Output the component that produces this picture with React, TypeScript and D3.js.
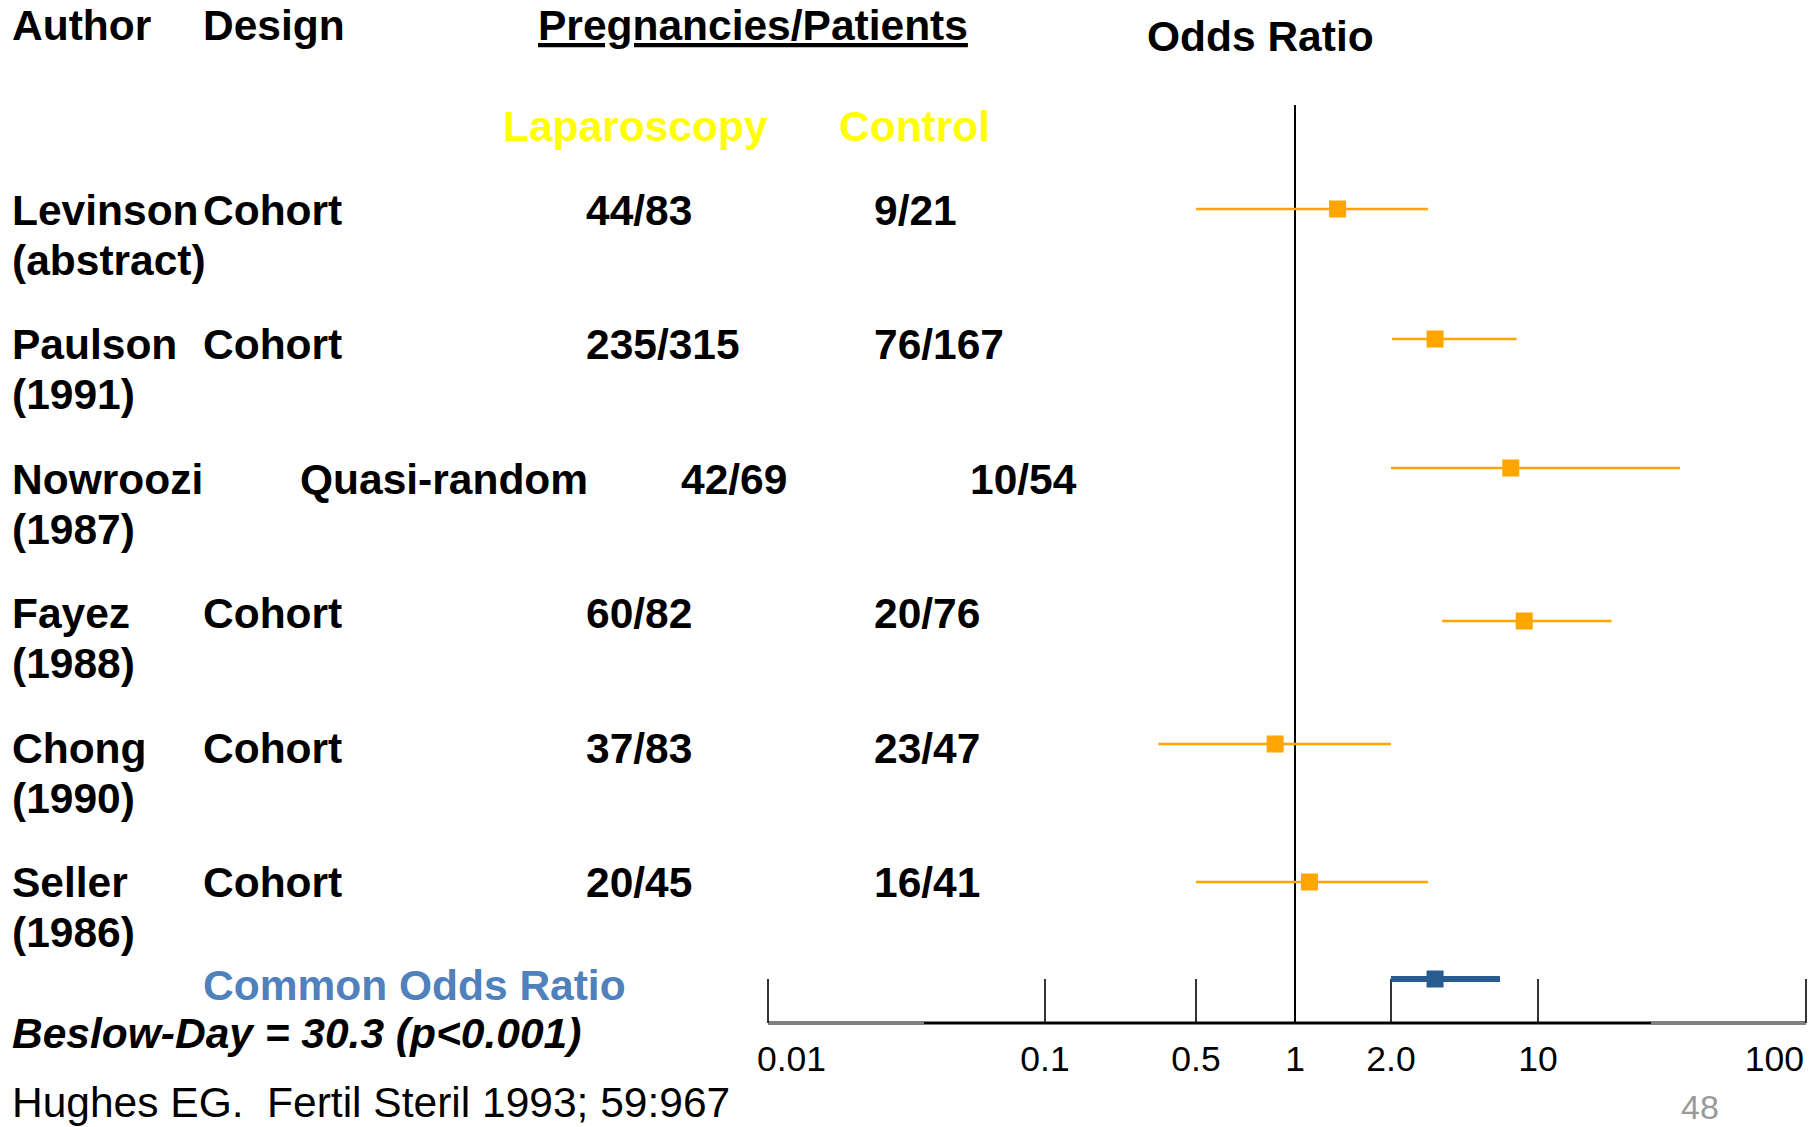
import React from 'react';
import * as d3 from 'd3';

// ---------- data ----------
const authors = ['Levinson', 'Paulson', 'Nowroozi', 'Fayez', 'Chong', 'Seller'];
const subLabels = ['(abstract)', '(1991)', '(1987)', '(1988)', '(1990)', '(1986)'];
const designs = ['Cohort', 'Cohort', 'Quasi-random', 'Cohort', 'Cohort', 'Cohort'];
const laparoscopy = ['44/83', '235/315', '42/69', '60/82', '37/83', '20/45'];
const control = ['9/21', '76/167', '10/54', '20/76', '23/47', '16/41'];
const oddsRatio = [1.36, 3.24, 7.42, 8.6, 0.87, 1.11];
const ciLow = [0.5, 2.02, 2.0, 3.5, 0.335, 0.5];
const ciHigh = [3.0, 7.9, 33.9, 18.8, 2.0, 3.0];
const commonOR = 3.24;
const commonLow = 2.0;
const commonHigh = 6.6;
const tickValues = [0.01, 0.1, 0.5, 1, 2, 10, 100];
const tickLabels = ['0.01', '0.1', '0.5', '1', '2.0', '10', '100'];

// ---------- layout ----------
const W = 1810;
const H = 1127;
const FONT = '"Liberation Sans", Arial, Helvetica, sans-serif';
const tickPixels = [768, 1045, 1196, 1295, 1391, 1538, 1806];
const markRowY = [209, 339, 468, 621, 744, 882];
const commonY = 979;
const axisY = 1023;
const tickTop = 979;
const refTop = 105;
const ORANGE = '#FFA500';
const BLUE = '#285C91';

const x = d3.scaleLog().domain(tickValues).range(tickPixels);
const textRow = d3.scaleLinear().domain([0, 5]).range([225, 897]);

export default function App() {
  const sq = 17;
  const bold = { fontFamily: FONT, fontWeight: 700, fontSize: 42.5 } as const;
  return (
    <svg
      width={W}
      height={H}
      style={{ position: 'absolute', left: 0, top: 0, background: '#fff' }}
    >
      {/* headers */}
      <text x={12} y={40} style={bold}>Author</text>
      <text x={203} y={40} style={bold}>Design</text>
      <text x={538} y={40} style={{ ...bold, textDecoration: 'underline' }}>Pregnancies/Patients</text>
      <text x={1147} y={51} style={bold}>Odds Ratio</text>
      <text x={503} y={141} style={bold} fill="#FFFF00">Laparoscopy</text>
      <text x={839} y={141} style={bold} fill="#FFFF00">Control</text>

      {/* rows text */}
      {authors.map((a, i) => {
        const quasi = designs[i] === 'Quasi-random';
        const y = textRow(i);
        return (
          <g key={a}>
            <text x={12} y={y} style={bold}>{a}</text>
            <text x={12} y={y + 50} style={bold}>{subLabels[i]}</text>
            <text x={quasi ? 300 : 203} y={y} style={bold}>{designs[i]}</text>
            <text x={quasi ? 681 : 586} y={y} style={bold}>{laparoscopy[i]}</text>
            <text x={quasi ? 970 : 874} y={y} style={bold}>{control[i]}</text>
          </g>
        );
      })}

      <text x={203} y={1000} style={bold} fill="#4F81BD">Common Odds Ratio</text>
      <text x={12} y={1048} style={{ ...bold, fontStyle: 'italic' }}>Beslow-Day = 30.3 (p&lt;0.001)</text>
      <text x={12} y={1117} style={{ fontFamily: FONT, fontSize: 42.5, whiteSpace: 'pre' }}>
        {'Hughes EG.  Fertil Steril 1993; 59:967'}
      </text>
      <text x={1681} y={1119} style={{ fontFamily: FONT, fontSize: 34 }} fill="#999999">48</text>

      {/* axis */}
      <line x1={x(0.01)} x2={x(100)} y1={axisY} y2={axisY} stroke="#000" strokeWidth={3} />
      <line x1={x(0.01)} x2={924} y1={axisY} y2={axisY} stroke="#808080" strokeWidth={3} />
      <line x1={1651} x2={x(100)} y1={axisY} y2={axisY} stroke="#808080" strokeWidth={3} />
      {tickValues.map((v) => (
        <line
          key={'t' + v}
          x1={x(v)}
          x2={x(v)}
          y1={v === 1 ? refTop : tickTop}
          y2={axisY}
          stroke="#000"
          strokeWidth={v === 1 ? 2 : 1.6}
        />
      ))}
      {tickValues.map((v, i) => (
        <text
          key={'l' + v}
          x={i === 0 ? x(v) - 11 : i === tickValues.length - 1 ? x(v) - 2 : x(v)}
          y={1071}
          textAnchor={i === 0 ? 'start' : i === tickValues.length - 1 ? 'end' : 'middle'}
          style={{ fontFamily: FONT, fontSize: 35.5 }}
        >
          {tickLabels[i]}
        </text>
      ))}

      {/* study marks */}
      {oddsRatio.map((v, i) => (
        <g key={'m' + i}>
          <line x1={x(ciLow[i])} x2={x(ciHigh[i])} y1={markRowY[i]} y2={markRowY[i]} stroke={ORANGE} strokeWidth={2.4} />
          <rect x={x(v) - sq / 2} y={markRowY[i] - sq / 2} width={sq} height={sq} fill={ORANGE} />
        </g>
      ))}

      {/* common odds ratio */}
      <line x1={x(commonLow)} x2={x(commonHigh)} y1={commonY} y2={commonY} stroke={BLUE} strokeWidth={6} />
      <rect x={x(commonOR) - sq / 2} y={commonY - sq / 2} width={sq} height={sq} fill={BLUE} />
    </svg>
  );
}
